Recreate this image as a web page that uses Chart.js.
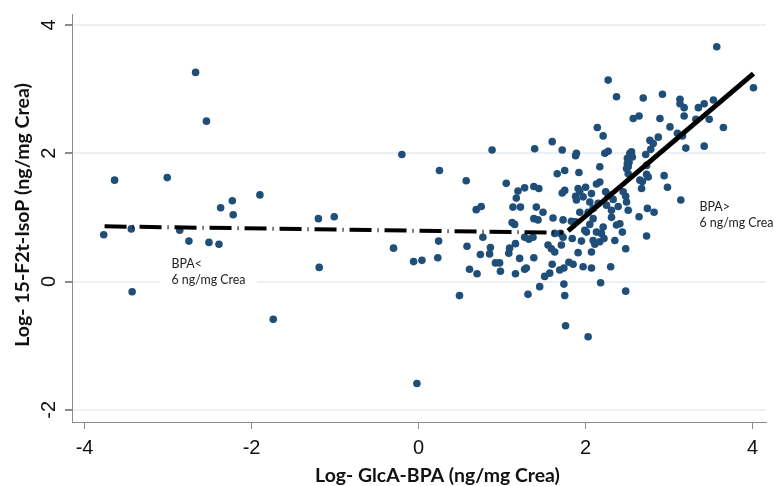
<!DOCTYPE html>
<html>
<head>
<meta charset="utf-8">
<script src="https://cdn.jsdelivr.net/npm/chart.js@4.4.1/dist/chart.umd.min.js"></script>
<style>
  html, body { margin: 0; padding: 0; background: #ffffff; }
  #wrap { width: 774px; height: 486px; }
</style>
</head>
<body>
<div id="wrap"><canvas id="c" width="774" height="486"></canvas></div>
<script>
// Axis text
const xTitle = 'Log- GlcA-BPA (ng/mg Crea)';
const yTitle = 'Log- 15-F2t-IsoP (ng/mg Crea)';
const xTickValues = [-4, -2, 0, 2, 4];
const xTickLabels = ['-4', '-2', '0', '2', '4'];
const yTickValues = [-2, 0, 2, 4];
const yTickLabels = ['-2', '0', '2', '4'];
const lowNote = ['BPA<', '6 ng/mg Crea'];
const highNote = ['BPA>', '6 ng/mg Crea'];

// Subjects: log GlcA-BPA (x) vs log 15-F2t-IsoP (y)
const glcaBpa = [
  -3.77,-3.64,-3.44,-3.43,-3.01,-2.67,-2.54,-2.86,-2.75,-2.51,
  -2.39,-2.37,-2.23,-2.22,-1.90,-1.74,-1.20,-1.01,-1.19,-0.20,
  -0.30,-0.06,0.04,-0.02,0.25,0.24,0.23,0.49,0.57,0.58,
  0.61,0.69,0.75,0.70,0.74,0.77,0.85,0.86,0.88,0.92,
  0.97,0.98,1.05,1.09,1.08,1.16,1.16,1.21,1.27,1.29,
  1.27,1.32,1.37,1.38,1.31,1.45,1.39,1.19,1.27,1.38,
  1.44,1.17,1.13,1.22,1.41,1.38,1.12,1.15,1.43,1.51,
  1.57,1.60,1.69,1.74,1.74,1.75,1.76,2.03,1.80,1.85,
  1.97,2.07,2.30,2.18,2.48,1.91,2.07,2.48,2.73,2.44,
  1.55,1.59,1.63,1.71,1.73,1.84,1.95,2.11,2.17,2.22,
  2.01,2.13,1.63,1.70,2.14,2.21,1.60,1.72,1.88,1.89,
  2.23,2.27,2.53,2.55,2.52,2.51,2.51,2.17,1.66,1.75,
  1.92,2.17,2.13,1.75,1.72,1.91,1.93,2.00,2.07,1.88,
  1.97,2.24,2.27,2.33,2.45,2.48,2.65,2.67,2.75,2.73,
  1.49,1.61,1.73,1.83,1.93,2.03,2.09,2.15,2.25,2.31,
  2.39,2.51,2.64,2.74,2.31,1.88,2.05,2.21,2.41,1.89,
  2.05,3.57,4.01,2.27,2.37,2.69,2.92,3.13,3.13,3.18,
  3.18,3.35,3.42,3.53,3.48,3.32,3.65,3.42,3.20,3.10,
  3.16,3.01,2.89,2.87,2.77,2.78,2.64,2.57,2.56,2.50,
  2.50,2.49,2.72,2.73,2.68,2.94,2.98,3.14,2.82,2.09,
  2.49,2.19,2.09,1.99,2.37,2.35,2.81
];
const isoP = [
  0.73,1.58,0.82,-0.16,1.62,3.26,2.50,0.80,0.63,0.61,
  0.58,1.15,1.26,1.04,1.35,-0.59,0.98,1.01,0.22,1.98,
  0.52,0.31,0.33,-1.59,1.73,0.63,0.37,-0.22,1.57,0.55,
  0.19,1.12,1.17,0.12,0.42,0.69,0.43,0.53,2.05,0.29,
  0.29,0.16,1.53,0.52,0.44,0.59,0.12,0.36,0.19,0.21,
  0.69,0.66,0.69,0.37,-0.20,-0.08,2.07,1.41,1.46,1.48,
  1.45,1.30,1.16,1.16,1.16,0.98,0.92,0.89,0.96,0.08,
  0.13,0.27,0.18,0.21,-0.04,-0.22,-0.69,-0.86,0.30,0.27,
  0.23,0.21,0.23,-0.02,-0.15,0.45,0.46,0.51,0.71,0.77,
  0.57,0.51,0.46,0.57,0.69,0.67,0.63,0.58,0.62,0.67,
  0.77,0.77,0.75,0.75,2.40,2.27,2.18,2.05,1.96,2.00,
  2.00,2.03,2.00,2.02,1.86,1.79,1.68,1.79,1.68,1.73,
  1.70,1.55,1.52,1.42,1.38,1.45,1.40,1.47,1.37,1.33,
  1.32,1.40,1.35,1.28,1.40,1.33,1.58,1.45,1.63,1.81,
  1.08,0.99,0.96,0.94,1.08,1.08,1.14,1.22,1.19,1.11,
  1.17,1.11,1.01,1.14,1.00,0.93,0.89,0.85,0.90,1.27,
  1.24,3.66,3.02,3.14,2.88,2.86,2.92,2.84,2.77,2.71,
  2.58,2.71,2.77,2.83,2.53,2.53,2.40,2.11,2.08,2.31,
  2.27,2.41,2.54,2.25,2.20,2.06,2.58,2.54,1.94,1.92,
  1.84,1.76,1.98,1.67,1.56,1.65,1.47,1.27,1.08,0.98,
  1.24,0.75,0.64,0.80,0.88,0.64,2.15
];

// Piecewise fit: below and above the 6 ng/mg Crea breakpoint
const lowFitX = [-3.76, 1.73];
const lowFitY = [0.86, 0.76];
const highFitX = [1.79, 4.01];
const highFitY = [0.79, 3.24];

const toPoints = (xs, ys) => xs.map((x, i) => ({ x: x, y: ys[i] }));

// Font size that makes a string span a given width
function fitSize(ctx, text, width, weight, family) {
  ctx.font = weight + ' 100px ' + family;
  return 100 * width / ctx.measureText(text).width;
}

const textPlugin = {
  id: 'textPlugin',
  beforeDatasetsDraw(chart) {
    const ctx = chart.ctx;
    ctx.save();
    // white backing behind the left note
    ctx.fillStyle = '#ffffff';
    ctx.fillRect(160, 250, 97, 42);
    const fam = 'Lato, "Open Sans", sans-serif';
    const size = fitSize(ctx, lowNote[1], 74, 'normal', fam);
    ctx.font = 'normal ' + size.toFixed(2) + 'px ' + fam;
    ctx.fillStyle = '#222222';
    ctx.textAlign = 'left';
    ctx.textBaseline = 'alphabetic';
    ctx.fillText(lowNote[0], 171.5, 268);
    ctx.fillText(lowNote[1], 171.5, 284);
    ctx.fillText(highNote[0], 699.5, 211);
    ctx.fillText(highNote[1], 699.5, 227);
    ctx.restore();
  },
  afterDraw(chart) {
    const ctx = chart.ctx;
    const xs = chart.scales.x, ys = chart.scales.y;
    ctx.save();
    ctx.fillStyle = '#111111';
    // tick labels
    ctx.font = '20px "Liberation Sans", Arial, sans-serif';
    ctx.textAlign = 'center';
    ctx.textBaseline = 'alphabetic';
    xTickValues.forEach((v, i) => {
      ctx.fillText(xTickLabels[i], xs.getPixelForValue(v), 453.5);
    });
    yTickValues.forEach((v, i) => {
      ctx.save();
      ctx.translate(55, ys.getPixelForValue(v));
      ctx.rotate(-Math.PI / 2);
      ctx.fillText(yTickLabels[i], 0, 0);
      ctx.restore();
    });
    // axis titles
    const fam = 'Lato, "Open Sans", sans-serif';
    const xs1 = fitSize(ctx, xTitle, 245, 'bold', fam);
    ctx.font = 'bold ' + xs1.toFixed(2) + 'px ' + fam;
    ctx.fillText(xTitle, 437.5, 482);
    const ys1 = fitSize(ctx, yTitle, 264, 'bold', fam);
    ctx.font = 'bold ' + ys1.toFixed(2) + 'px ' + fam;
    ctx.save();
    ctx.translate(28.5, 215);
    ctx.rotate(-Math.PI / 2);
    ctx.fillText(yTitle, 0, 0);
    ctx.restore();
    ctx.restore();
  }
};

const axisGrey = '#8a8a8a';

new Chart(document.getElementById('c'), {
  type: 'scatter',
  data: {
    datasets: [
      {
        type: 'line',
        data: toPoints(lowFitX, lowFitY),
        borderColor: '#000000',
        borderWidth: 4,
        borderDash: [22, 6, 1, 6],
        borderCapStyle: 'butt',
        pointRadius: 0,
        fill: false,
        tension: 0,
        order: 0
      },
      {
        type: 'line',
        data: toPoints(highFitX, highFitY),
        borderColor: '#000000',
        borderWidth: 5,
        borderCapStyle: 'butt',
        pointRadius: 0,
        fill: false,
        tension: 0,
        order: 0
      },
      {
        data: toPoints(glcaBpa, isoP),
        backgroundColor: '#1f4e79',
        borderWidth: 0,
        pointRadius: 3.8,
        order: 1
      }
    ]
  },
  options: {
    responsive: false,
    animation: false,
    events: [],
    layout: { padding: { left: 0, top: 14, right: 8, bottom: 0 } },
    plugins: { legend: { display: false }, tooltip: { enabled: false } },
    scales: {
      x: {
        type: 'linear',
        min: -4.15,
        max: 4.16,
        afterBuildTicks: s => { s.ticks = xTickValues.map(v => ({ value: v })); },
        afterFit: s => { s.height = 64; },
        ticks: { display: false },
        grid: { drawOnChartArea: false, drawTicks: true, tickLength: 7, tickColor: axisGrey, color: axisGrey },
        border: { display: true, color: axisGrey, width: 1 }
      },
      y: {
        type: 'linear',
        min: -2.19,
        max: 4.17,
        afterBuildTicks: s => { s.ticks = yTickValues.map(v => ({ value: v })); },
        afterFit: s => { s.width = 72; },
        ticks: { display: false },
        grid: { color: '#ebf0f4', lineWidth: 2, drawTicks: true, tickLength: 7, tickColor: axisGrey },
        border: { display: true, color: axisGrey, width: 1 }
      }
    }
  },
  plugins: [textPlugin]
});
</script>
</body>
</html>
